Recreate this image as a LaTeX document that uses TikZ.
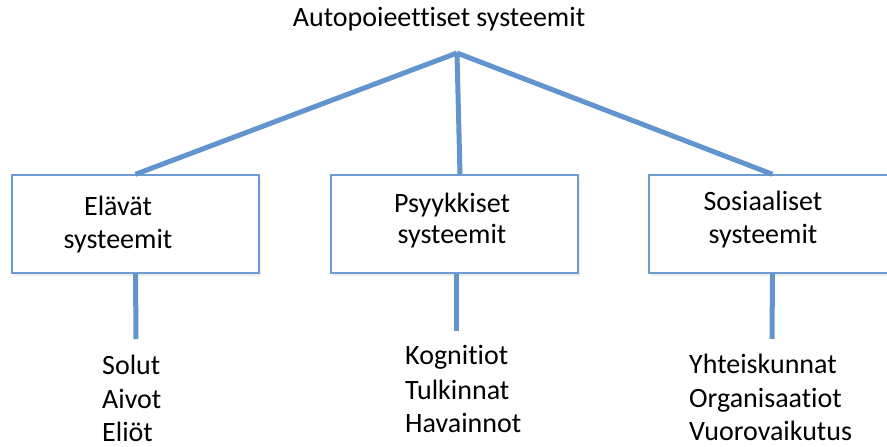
\documentclass[tikz,border=0pt]{standalone}
\usepackage{fontspec}
\setmainfont{Carlito}[Ligatures=NoCommon]
\usepackage{xcolor}
\usepackage{tikz}
\usetikzlibrary{shadows,positioning}
\definecolor{linkblue}{RGB}{98,148,206}
\definecolor{boxblue}{RGB}{110,156,210}

\begin{document}
\begin{tikzpicture}[x=1pt,y=-1pt,
          sysbox/.style={draw=boxblue,line width=1.4pt,fill=white,
                      minimum width=247pt,minimum height=98pt,inner sep=0pt,
                      drop shadow={shadow xshift=1.5pt,shadow yshift=-3pt,
                                   fill=black!12,opacity=0.6}},
          txt/.style={font=\fontsize{28}{34}\selectfont,anchor=base,inner sep=0pt},
          item/.style={font=\fontsize{28}{34}\selectfont,anchor=base west,inner sep=0pt},
          link/.style={draw=linkblue,line width=5pt}]
        \clip (0,0) rectangle (887,447);
        % title
        \node[txt] (title) at (439,27) {Autopoieettiset systeemit};
        \coordinate (apex) at (457,53);
        % boxes
        \node[sysbox] (ela) at (135.5,224) {};
        \node[sysbox] (psy) at (454.5,224) {};
        \node[sysbox] (sos) at (772.5,224) {};
        \node[txt] (elaA) at (118,215) {Elävät};
        \node[txt] (elaB) at (118,248) {systeemit};
        \node[txt] (psyA) at (452,212) {Psyykkiset};
        \node[txt] (psyB) at (452,243) {systeemit};
        \node[txt] (sosA) at (763,210) {Sosiaaliset};
        \node[txt] (sosB) at (763,243) {systeemit};
        % tree lines
        \draw[link] (apex) -- (ela.north);
        \draw[link] (apex) -- ([xshift=5.5pt]psy.north);
        \draw[link] (apex) -- (sos.north);
        \coordinate (elaEnd) at (136,339);
        \coordinate (psyEnd) at (456,331);
        \coordinate (sosEnd) at (772,339);
        \draw[link] (ela.south) -- (elaEnd);
        \draw[link] ([xshift=1.5pt]psy.south) -- (psyEnd);
        \draw[link] (sos.south) -- (sosEnd);
        % lists
        \node[item] (sol) at (102,374) {Solut};
        \node[item] (aiv) at (102,408) {Aivot};
        \node[item] (eli) at (102,441) {Eliöt};
        \node[item] (kog) at (405,364) {Kognitiot};
        \node[item] (tul) at (405,399) {Tulkinnat};
        \node[item] (hav) at (405,432) {Havainnot};
        \node[item] (yht) at (689,373) {Yhteiskunnat};
        \node[item] (org) at (689,407) {Organisaatiot};
        \node[item] (vuo) at (689,440) {Vuorovaikutus};
\end{tikzpicture}
\end{document}
